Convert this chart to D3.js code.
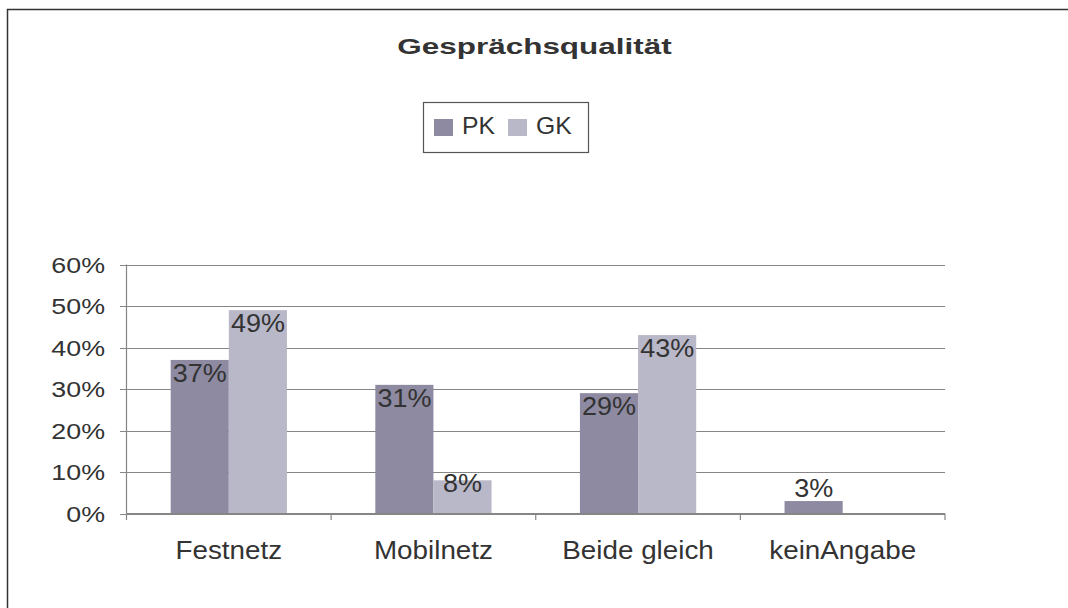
<!DOCTYPE html>
<html>
<head>
<meta charset="utf-8">
<script src="https://cdnjs.cloudflare.com/ajax/libs/d3/7.8.5/d3.min.js"></script>
<style>
  body { margin: 0; background: #fff; }
  text { font-family: "Liberation Sans", Arial, sans-serif; fill: #333; }
</style>
</head>
<body>
<svg id="chart" width="1068" height="608"></svg>
<script>
// Chart data.
var categories = ["Festnetz", "Mobilnetz", "Beide gleich", "keinAngabe"];
var series_names = ["PK", "GK"];
var pk_values = [0.37, 0.31, 0.29, 0.03];
var gk_values = [0.49, 0.08, 0.43, null];
var y_ticks = [0, 0.1, 0.2, 0.3, 0.4, 0.5, 0.6];
var title_text = "Gesprächsqualität";

var colors = {PK: "#8e8aa1", GK: "#b9b8c8"};

var svg = d3.select("#chart");

// outer border, runs off the right and bottom edges
svg.append("rect")
  .attr("x", 7.5).attr("y", 9.5)
  .attr("width", 1100).attr("height", 700)
  .attr("fill", "none")
  .attr("stroke", "#333")
  .attr("stroke-width", 1.5);

// scales
var x0 = d3.scaleBand()
    .domain(categories)
    .range([126.5, 945])
    .paddingInner(0).paddingOuter(0);

var x1 = d3.scaleBand()
    .domain(series_names)
    .range([0, x0.bandwidth()])
    .paddingInner(0)
    .paddingOuter(0.76);

var y = d3.scaleLinear()
    .domain([0, 0.6])
    .range([513.5, 264.5]);

// gridlines
svg.append("g").selectAll("line")
  .data(y_ticks)
  .enter().append("line")
  .attr("x1", 120).attr("x2", 945)
  .attr("y1", function(d) { return Math.round(y(d)) + 0.5; })
  .attr("y2", function(d) { return Math.round(y(d)) + 0.5; })
  .attr("stroke", "#868686")
  .attr("stroke-width", 1.2);

// y axis line
svg.append("line")
  .attr("x1", 126.5).attr("x2", 126.5)
  .attr("y1", y(0.6)).attr("y2", y(0))
  .attr("stroke", "#868686").attr("stroke-width", 1.2);

// y tick labels (stretched a bit like the source image)
svg.append("g").selectAll("text")
  .data(y_ticks)
  .enter().append("text")
  .attr("transform", function(d) { return "translate(105," + (y(d) + 8) + ") scale(1.22,1)"; })
  .attr("text-anchor", "end")
  .style("font-size", "22px")
  .text(d3.format(".0%"));

// bars
var rows = categories.map(function(c, i) {
  return {cat: c, values: [{key: "PK", v: pk_values[i]}, {key: "GK", v: gk_values[i]}]};
});

var groups = svg.append("g").selectAll("g")
  .data(rows)
  .enter().append("g")
  .attr("transform", function(d) { return "translate(" + x0(d.cat) + ",0)"; });

groups.selectAll("rect")
  .data(function(d) { return d.values.filter(function(e) { return e.v != null; }); })
  .enter().append("rect")
  .attr("x", function(d) { return x1(d.key); })
  .attr("width", x1.bandwidth())
  .attr("y", function(d) { return y(d.v); })
  .attr("height", function(d) { return y(0) - y(d.v); })
  .attr("fill", function(d) { return colors[d.key]; });

// x axis line + tick marks at category boundaries
svg.append("line")
  .attr("x1", 126.5).attr("x2", 945)
  .attr("y1", 513.5).attr("y2", 513.5)
  .attr("stroke", "#868686").attr("stroke-width", 1.2);

var bounds = categories.map(function(c) { return x0(c); }).concat([x0.range()[1]]);
svg.append("g").selectAll("line")
  .data(bounds)
  .enter().append("line")
  .attr("x1", function(d) { return d; }).attr("x2", function(d) { return d; })
  .attr("y1", 513.5).attr("y2", 520)
  .attr("stroke", "#868686").attr("stroke-width", 1.2);

// data labels: just inside the bar top, above it when the bar is short
groups.selectAll("text.val")
  .data(function(d) { return d.values.filter(function(e) { return e.v != null; }); })
  .enter().append("text")
  .attr("class", "val")
  .attr("transform", function(d) {
    var cx = x1(d.key) + x1.bandwidth() / 2;
    var h = y(0) - y(d.v);
    var by = h > 20 ? y(d.v) + Math.min(22, h * 0.35) : y(d.v) - 4;
    return "translate(" + cx + "," + by + ") scale(1.08,1)";
  })
  .attr("text-anchor", "middle")
  .style("font-size", "25px")
  .text(function(d) { return d3.format(".0%")(d.v); });

// category labels
svg.append("g").selectAll("text")
  .data(categories)
  .enter().append("text")
  .attr("transform", function(d) { return "translate(" + (x0(d) + x0.bandwidth() / 2) + ",559) scale(1.07,1)"; })
  .attr("text-anchor", "middle")
  .style("font-size", "26px")
  .text(function(d) { return d; });

// title
svg.append("text")
  .attr("transform", "translate(534.5,54) scale(1.43,1)")
  .attr("text-anchor", "middle")
  .style("font-size", "22px")
  .style("font-weight", "bold")
  .text(title_text);

// legend
var legend = svg.append("g");
legend.append("rect")
  .attr("x", 423.5).attr("y", 102.5)
  .attr("width", 165).attr("height", 50)
  .attr("fill", "#fff")
  .attr("stroke", "#555").attr("stroke-width", 1.2);

var legend_x = {PK: 434, GK: 508};
var items = legend.selectAll("g.item")
  .data(series_names)
  .enter().append("g")
  .attr("class", "item")
  .attr("transform", function(d) { return "translate(" + legend_x[d] + ",0)"; });

items.append("rect")
  .attr("x", 0).attr("y", 119)
  .attr("width", 19).attr("height", 17)
  .attr("fill", function(d) { return colors[d]; });

items.append("text")
  .attr("transform", "translate(28,134) scale(1.03,1)")
  .style("font-size", "24px")
  .text(function(d) { return d; });
</script>
</body>
</html>
